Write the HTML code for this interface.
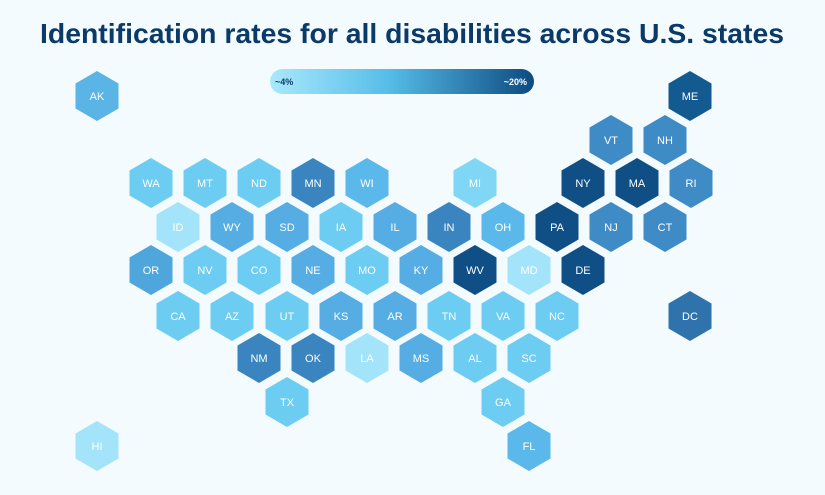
<!DOCTYPE html>
<html><head><meta charset="utf-8"><style>
html,body{margin:0;padding:0;background:#f3fbfe;}
svg{display:block}
</style></head><body>
<svg width="825" height="495" xmlns="http://www.w3.org/2000/svg">
<defs>
<linearGradient id="g" x1="0" x2="1" y1="0" y2="0">
<stop offset="0" stop-color="#a9e8fb"/><stop offset="0.45" stop-color="#56bde8"/><stop offset="1" stop-color="#0d4a80"/>
</linearGradient>
<polygon id="h" points="0,-25 21.5,-12.5 21.5,12.5 0,25 -21.5,12.5 -21.5,-12.5"/>
</defs>
<rect width="825" height="495" fill="#f3fbfe"/>
<text x="412" y="43" text-anchor="middle" textLength="744" lengthAdjust="spacingAndGlyphs" font-family="Liberation Sans, sans-serif" font-weight="bold" font-size="28" fill="#0b3a68">Identification rates for all disabilities across U.S. states</text>
<rect x="270" y="69" width="264" height="25" rx="12.5" fill="url(#g)"/>
<text x="275" y="85" font-family="Liberation Sans, sans-serif" font-weight="bold" font-size="9" fill="#0d3c6e">~4%</text>
<text x="527" y="85" text-anchor="end" font-family="Liberation Sans, sans-serif" font-weight="bold" font-size="9" fill="#ffffff">~20%</text>
<g font-family="Liberation Sans, sans-serif" font-size="11" fill="#fff" text-anchor="middle" id="hexes"></g>
</svg>
<script>
var d=[
["AK",97,96,"#5ab4e6"],["ME",690,96,"#135a90"],["VT",611,140,"#3f8bc6"],["NH",665,140,"#3f8bc6"],
["WA",151,183,"#6cccf2"],["MT",205,183,"#6cccf2"],["ND",259,183,"#6cccf2"],["MN",313,183,"#3a85c0"],["WI",367,183,"#5ab9ea"],["MI",475,183,"#7fd6f5"],["NY",583,183,"#0f4f86"],["MA",637,183,"#0f4f86"],["RI",691,183,"#3f8bc6"],
["ID",178,227,"#a4e4fa"],["WY",232,227,"#55ade3"],["SD",287,227,"#55ade3"],["IA",341,227,"#6cccf2"],["IL",395,227,"#55ade3"],["IN",449,227,"#3a85c0"],["OH",503,227,"#5ab9ea"],["PA",557,227,"#0f4f86"],["NJ",611,227,"#3f8bc6"],["CT",665,227,"#3f8bc6"],
["OR",151,270,"#4ea6dc"],["NV",205,270,"#6cccf2"],["CO",259,270,"#6cccf2"],["NE",313,270,"#55ade3"],["MO",367,270,"#6cccf2"],["KY",421,270,"#55ade3"],["WV",475,270,"#0f4f86"],["MD",529,270,"#a4e4fa"],["DE",583,270,"#0f4f86"],
["CA",178,316,"#6cccf2"],["AZ",232,316,"#6cccf2"],["UT",287,316,"#6cccf2"],["KS",341,316,"#55ade3"],["AR",395,316,"#55ade3"],["TN",449,316,"#6cccf2"],["VA",503,316,"#6cccf2"],["NC",557,316,"#6cccf2"],["DC",690,316,"#2f72ac"],
["NM",259,358,"#3a85c0"],["OK",313,358,"#3a85c0"],["LA",367,358,"#a4e4fa"],["MS",421,358,"#55ade3"],["AL",475,358,"#6cccf2"],["SC",529,358,"#6cccf2"],
["TX",287,402,"#6cccf2"],["GA",503,402,"#6cccf2"],["HI",97,446,"#a4e4fa"],["FL",529,446,"#5ab9ea"]];
var g=document.getElementById("hexes"),s="";
d.forEach(function(e){s+='<use href="#h" x="'+e[1]+'" y="'+e[2]+'" fill="'+e[3]+'"/><text x="'+e[1]+'" y="'+(e[2]+4)+'">'+e[0]+'</text>';});
g.innerHTML=s;
</script>
</body></html>
